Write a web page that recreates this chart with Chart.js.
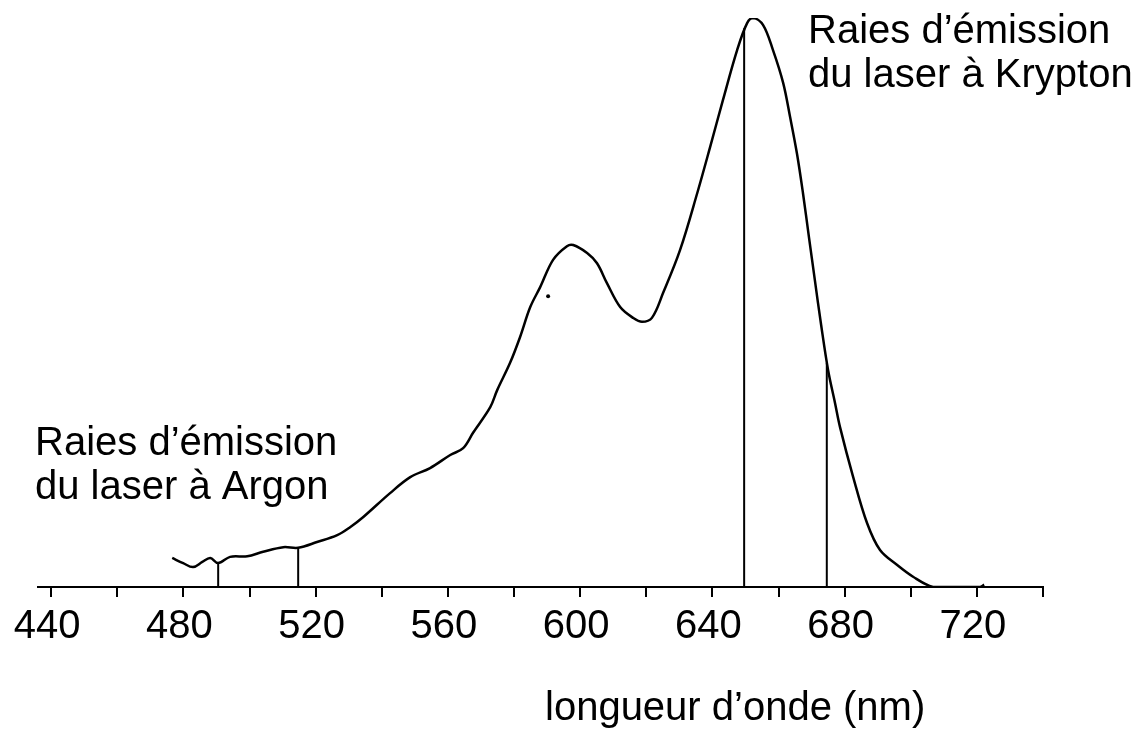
<!DOCTYPE html>
<html><head><meta charset="utf-8">
<script src="https://cdn.jsdelivr.net/npm/chart.js@4.4.1/dist/chart.umd.min.js"></script>
<style>html,body{margin:0;padding:0;background:#fff;overflow:hidden;} #wrap{width:1145px;height:730px;position:relative;}</style>
</head><body><div id="wrap"><canvas id="c" width="1145" height="730"></canvas></div>
<script>
// Spectrum (wavelength in nm, relative intensity)
const wavelengths = [476.6,479.9,482.9,485.7,488.1,490.5,494.1,499.3,504.1,510.2,514.7,520.4,526.5,530.4,534.4,542.5,548.6,554.6,560.7,564.6,567.6,572.8,574.9,578.8,581.8,584.9,587.9,591.8,596.0,597.9,602.1,605.1,608.1,612.1,616.0,618.7,621.7,625.1,630.2,635.4,639.3,643.2,647.5,650.5,652.3,655.3,658.3,661.4,663.5,665.6,667.4,669.2,671.0,672.9,675.0,677.1,678.6,682.5,686.8,690.7,695.8,700.7,706.7,712.8,720.9,722.2];
const intensities = [5.1,4.2,3.5,4.4,5.1,4.2,5.3,5.4,6.2,7.0,6.9,7.9,9.1,10.5,12.3,16.5,19.3,20.9,23.2,24.4,27.1,31.6,34.6,39.4,43.9,49.2,52.7,57.5,59.9,60.1,58.7,56.9,53.4,49.2,47.3,46.6,47.3,51.7,59.2,69.2,77.3,85.6,94.4,99.1,100,98.8,94.4,88.6,82.6,76.1,69.2,61.5,53.9,46.0,38.1,32.3,28.1,19.5,11.2,6.5,3.9,1.8,0,0,0,0.4];
// Laser emission lines
const argonLines = [490.5, 514.7];
const argonTops = [4.2, 6.9];
const kryptonLines = [649.6, 674.6];
const kryptonTops = [98.2, 39.4];
// stray speck on the scan
const speckX = [590.3];
const speckY = [51.1];
// Axis ticks
const tickValues = [440,460,480,500,520,540,560,580,600,620,640,660,680,700,720,740];
const tickLabels = ['440','','480','','520','','560','','600','','640','','680','','720',''];
const xTitle = 'longueur d’onde (nm)';
const argonLabel = ['Raies d’émission','du laser à Argon'];
const kryptonLabel = ['Raies d’émission','du laser à Krypton'];

const FONT = '"Liberation Sans", Arial, Helvetica, sans-serif';

const spectrum = wavelengths.map((w,i)=>({x:w,y:intensities[i]}));
const lineSets = [];
argonLines.forEach((w,i)=>lineSets.push([{x:w,y:0},{x:w,y:argonTops[i]}]));
kryptonLines.forEach((w,i)=>lineSets.push([{x:w,y:0},{x:w,y:kryptonTops[i]}]));

const datasets = [{
  data: spectrum, borderColor:'#000', borderWidth:2.5, pointRadius:0, tension:0.35, fill:false
}];
lineSets.forEach(d=>datasets.push({data:d, borderColor:'#000', borderWidth:2, pointRadius:0, tension:0}));
datasets.push({data: speckX.map((x,i)=>({x:x,y:speckY[i]})), showLine:false, pointRadius:2, pointBackgroundColor:'#000', pointBorderWidth:0});

const textPlugin = {
  id:'texts',
  afterDraw(chart){
    const ctx = chart.ctx;
    ctx.save();
    ctx.fillStyle = '#000';
    ctx.font = '40px ' + FONT;
    ctx.textAlign = 'left';
    ctx.textBaseline = 'alphabetic';
    ctx.fillText(argonLabel[0], 35, 455);
    ctx.fillText(argonLabel[1], 35, 499);
    ctx.fillText(kryptonLabel[0], 808, 43);
    ctx.fillText(kryptonLabel[1], 808, 87);
    ctx.fillText(xTitle, 545, 720);
    ctx.restore();
  }
};

new Chart(document.getElementById('c'), {
  type:'line',
  data:{datasets},
  plugins:[textPlugin],
  options:{
    responsive:false, animation:false,
    layout:{padding:{left:38,right:102,top:18,bottom:0}},
    plugins:{legend:{display:false}, tooltip:{enabled:false}},
    scales:{
      x:{
        type:'linear', min:436, max:740,
        afterBuildTicks:(s)=>{ s.ticks = tickValues.map(v=>({value:v})); },
        afterFit:(s)=>{ s.height = 143; },
        ticks:{ callback:(v,i)=>tickLabels[i], color:'#000', font:{size:40, family:FONT}, padding:6, labelOffset:-4, maxRotation:0, autoSkip:false },
        grid:{ drawOnChartArea:false, drawTicks:true, tickLength:10, color:'#000', lineWidth:2 },
        border:{ display:true, color:'#000', width:2 }
      },
      y:{ display:false, min:0, max:100 }
    }
  }
});
</script>
</body></html>
